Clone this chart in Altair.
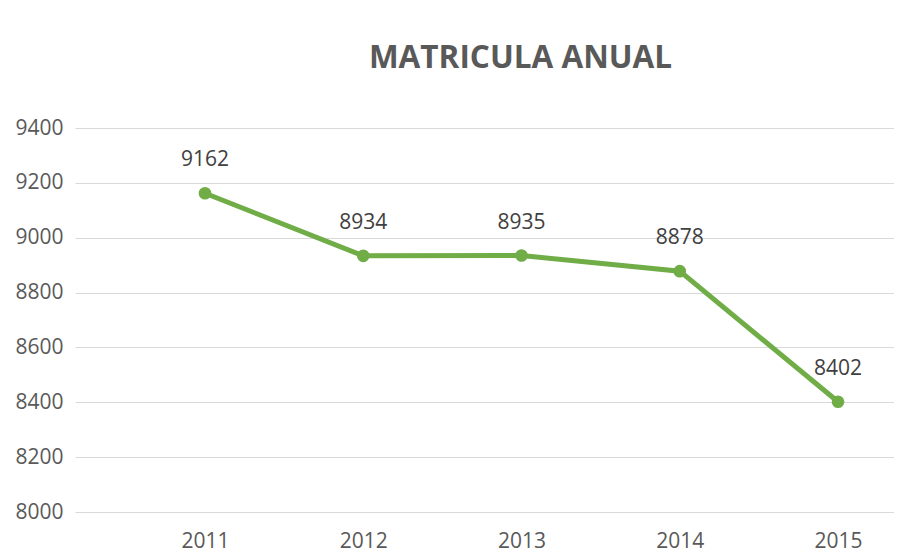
import altair as alt
import pandas as pd

years = ["2011", "2012", "2013", "2014", "2015"]
matricula = [9162, 8934, 8935, 8878, 8402]
y_ticks = [8000, 8200, 8400, 8600, 8800, 9000, 9200, 9400]

df = pd.DataFrame({"year": years, "value": matricula})

FONT = "Open Sans"

x = alt.X("year:N", sort=years, title=None,
          scale=alt.Scale(type="point", padding=0.5876, align=0.699),
          axis=alt.Axis(labelAngle=0, labelFontSize=21, labelColor="#595959",
                        labelFont=FONT, labelPadding=18, ticks=False,
                        domain=False, grid=False))
y = alt.Y("value:Q", title=None,
          scale=alt.Scale(domain=[8000, 9400], nice=False, zero=False),
          axis=alt.Axis(values=y_ticks, format="d", labelFontSize=21,
                        labelColor="#595959", labelFont=FONT, labelPadding=12,
                        ticks=False, domain=False, grid=True,
                        gridColor="#D9D9D9", gridWidth=1.2,
                        minExtent=67, maxExtent=67))

base = alt.Chart(df).encode(x=x, y=y)

line = base.mark_line(color="#70AD47", strokeWidth=5)
points = base.mark_point(filled=True, color="#70AD47", size=160, opacity=1)
labels = base.mark_text(dy=-33, fontSize=21, font=FONT, color="#404040",
                        baseline="middle").encode(text="value:Q")

chart = (line + points + labels).properties(
    width=819,
    height=384,
    background="white",
    padding={"top": 34, "left": 0, "right": 0, "bottom": 0},
    title=alt.TitleParams("MATRICULA ANUAL", fontSize=31.5, font=FONT,
                          fontWeight="bold", color="#595959", anchor="middle",
                          dx=36, offset=43),
).configure_view(stroke=None)

chart.save("out.html", embed_options={"renderer": "svg", "actions": False})
